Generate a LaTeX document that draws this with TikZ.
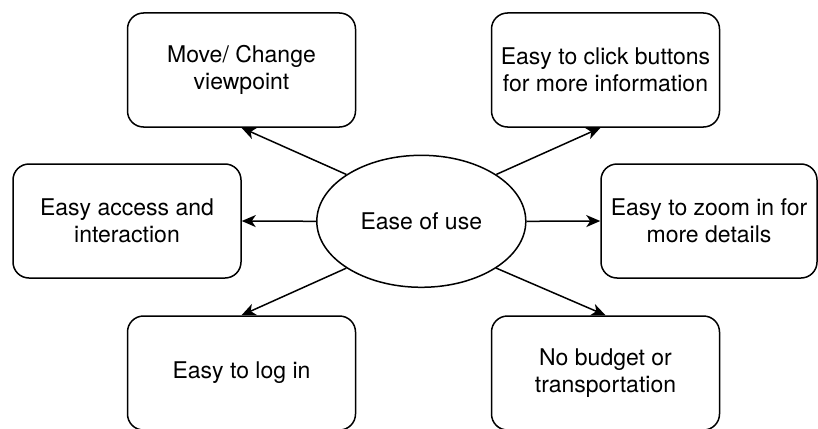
\documentclass[tikz,border=0pt]{standalone}
\usepackage{fontspec}
\setmainfont{TeX Gyre Heros}
\usetikzlibrary{shapes.geometric,arrows.meta,calc}

\begin{document}
\begin{tikzpicture}[x=1pt,y=-1pt,
  every node/.style={font=\fontsize{23}{27}\selectfont, text=black},
  card/.style={draw=black, line width=1.5pt, rounded corners=16pt,
    minimum width=228pt, minimum height=114pt, inner sep=0pt, align=center},
  hub/.style={draw=black, line width=1.5pt, ellipse,
    minimum width=209pt, minimum height=132pt, inner sep=0pt},
  link/.style={line width=1.5pt, draw=black,
    -{Stealth[length=14pt, width=12pt, inset=4pt]}}
]
  % page frame
  \useasboundingbox (0,0) rectangle (818,428);
  \clip (0,0) rectangle (818,428);

  % central topic
  \node[hub] (hub) at (421.3,221.3) {Ease of use};

  % surrounding aspects
  \node[card] (tl) at (241.5,70) {Move/ Change\\viewpoint};
  \node[card] (tr) at (605.5,70) {Easy to click buttons\\for more information};
  \node[card] (ml) at (127,221) {Easy access and\\interaction};
  \node[card, minimum width=216pt] (mr) at (709,221) {Easy to zoom in for\\more details};
  \node[card] (bl) at (241.5,373) {Easy to log in};
  \node[card] (br) at (605.5,373) {No budget or\\transportation};

  % connectors
  \draw[link] (hub.148) -- (tl.south);
  \draw[link] (hub.32) -- ($(tr.south)+(-5,0)$);
  \draw[link] (hub.west) -- (ml.east);
  \draw[link] (hub.east) -- (mr.west);
  \draw[link] (hub.212) -- (bl.north);
  \draw[link] (hub.328) -- (br.north);
\end{tikzpicture}
\end{document}
